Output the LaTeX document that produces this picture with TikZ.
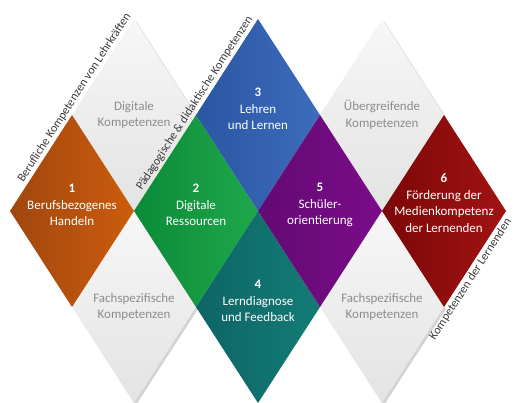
\documentclass[tikz,border=0pt]{standalone}
\usepackage{fontspec}
\setmainfont{Carlito}
\usepackage{tikz}
\usetikzlibrary{shapes.geometric, shadows, positioning}

\definecolor{orangeL}{HTML}{A0460E}
\definecolor{orangeR}{HTML}{CC5D0C}
\definecolor{greenL}{HTML}{0B8A39}
\definecolor{greenR}{HTML}{1FA84A}
\definecolor{blueL}{HTML}{2A56A2}
\definecolor{blueR}{HTML}{3D6CBC}
\definecolor{tealL}{HTML}{0D6566}
\definecolor{tealR}{HTML}{137C75}
\definecolor{purpleL}{HTML}{620A73}
\definecolor{purpleR}{HTML}{7B0C89}
\definecolor{redL}{HTML}{7C0707}
\definecolor{redR}{HTML}{A11313}
\definecolor{greyTop}{HTML}{F7F7F7}
\definecolor{greyBot}{HTML}{E3E3E3}
\definecolor{greyText}{HTML}{8C8C8C}
\definecolor{labelText}{HTML}{3A3A3A}

\begin{document}
\begin{tikzpicture}[x=1pt, y=-1pt,
		tile/.style={diamond, minimum width=124pt, minimum height=192pt, inner sep=0pt, outer sep=0pt},
		greytile/.style={tile, top color=greyTop, bottom color=greyBot,
			drop shadow={shadow xshift=2pt, shadow yshift=-2pt, opacity=0.35}},
		tiletext/.style={align=center, text=white, font=\fontsize{13}{16.5}\selectfont},
		greytext/.style={tiletext, text=greyText},
		edgelabel/.style={sloped, inner sep=2pt, text=labelText, font=\fontsize{12}{14}\selectfont}]
	\useasboundingbox (0,0) rectangle (514,403);
	
	% grey tiles first, their shadows go under the coloured ones
	\node[greytile] (digkomp) at (134,115) {};
	\node[greytile] (fachlinks) at (134,307) {};
	\node[greytile] (uebergreifend) at (382,115) {};
	\node[greytile] (fachrechts) at (382,307) {};
	
	% coloured tiles
	\node[tile, left color=orangeL, right color=orangeR] (berufs) at (72,211) {};
	\node[tile, left color=greenL, right color=greenR] (ressourcen) at (196,211) {};
	\node[tile, left color=blueL, right color=blueR] (lehren) at (258,115) {};
	\node[tile, left color=tealL, right color=tealR] (diagnose) at (258,307) {};
	\node[tile, left color=purpleL, right color=purpleR] (schueler) at (320,211) {};
	\node[tile, left color=redL, right color=redR] (medien) at (444,211) {};
	
	% texts
	\node[greytext] (digkomp-t) at (digkomp) {Digitale\\Kompetenzen};
	\node[greytext] (fachlinks-t) at (fachlinks) {Fachspezifische\\Kompetenzen};
	\node[greytext] (uebergreifend-t) at (uebergreifend) {Übergreifende\\Kompetenzen};
	\node[greytext] (fachrechts-t) at (fachrechts) {Fachspezifische\\Kompetenzen};
	
	\node[tiletext] (berufs-t) at ([yshift=6pt]berufs.center) {\textbf{1}\\Berufsbezogenes\\Handeln};
	\node[tiletext] (ressourcen-t) at ([yshift=6pt]ressourcen.center) {\textbf{2}\\Digitale\\Ressourcen};
	\node[tiletext] (lehren-t) at ([yshift=6pt]lehren.center) {\textbf{3}\\Lehren\\und Lernen};
	\node[tiletext] (diagnose-t) at ([yshift=6pt]diagnose.center) {\textbf{4}\\Lerndiagnose\\und Feedback};
	\node[tiletext] (schueler-t) at ([yshift=6pt]schueler.center) {\textbf{5}\\Schüler-\\orientierung};
	\node[tiletext] (medien-t) at ([yshift=8pt]medien.center) {\textbf{6}\\Förderung der\\Medienkompetenz\\der Lernenden};
	
	% labels along the edges
	\path (berufs.west) -- (digkomp.north)
		node[edgelabel, pos=0.57, above] (beruflich) {Berufliche Kompetenzen von Lehrkräften};
	\path (ressourcen.west) -- (lehren.north)
		node[edgelabel, pos=0.54, above] (paedagogisch) {Pädagogische \& didaktische Kompetenzen};
	\path (medien.south) -- (medien.east)
		node[edgelabel, pos=0.33, below] (lernende) {Kompetenzen der Lernenden};
\end{tikzpicture}
\end{document}
